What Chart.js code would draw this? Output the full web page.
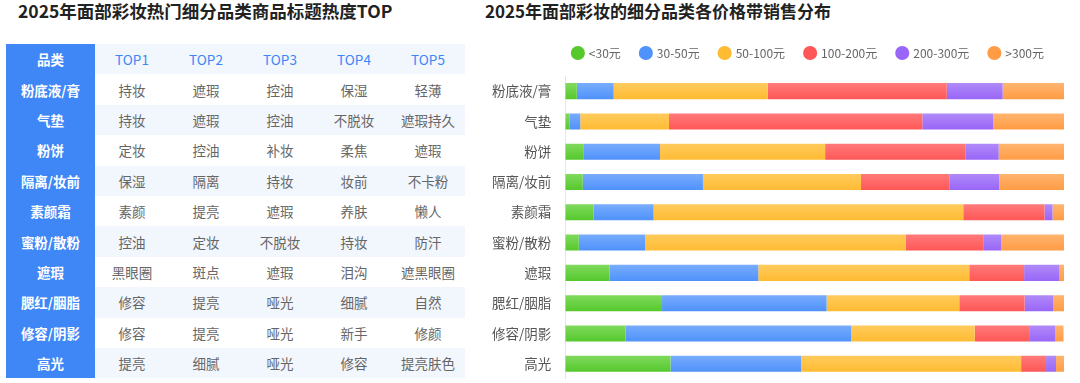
<!DOCTYPE html>
<html lang="zh-CN">
<head>
<meta charset="UTF-8">
<title>2025年面部彩妆细分品类</title>
<script src="https://cdn.jsdelivr.net/npm/chart.js"></script>
<style>
  html, body { margin: 0; padding: 0; background: #fff; }
  body { width: 1080px; height: 383px; position: relative; overflow: hidden;
         font-family: "Noto Sans CJK SC", "Noto Sans", sans-serif; }
  .title { position: absolute; top: -2px; font-size: 17px; font-weight: bold; color: #222; }
  #leftTitle { left: 18px; font-size: 17.5px; }
  #rightTitle { left: 485px; }
  table { position: absolute; left: 6px; top: 44px; border-collapse: collapse; table-layout: fixed; }
  td, th { height: 30.4px; padding: 0; text-align: center; font-size: 13.5px; color: #666; font-weight: normal; }
  th { color: #3d87f5; }
  td.cat, th.cat { background: #3f87f6; color: #fff; font-weight: bold; width: 89px; }
  tr.alt td, tr.alt th { background: #f2f6fd; }
  tr.alt td.cat, tr.alt th.cat { background: #3f87f6; }
  .col { width: 74px; }
  /* 画布比可见区域高一些，抵消 y 轴标签自带的底部留白 */
  #box { position: absolute; left: 470px; top: 27px; width: 604px; height: 374px; }
</style>
</head>
<body>
<div class="title" id="leftTitle">2025年面部彩妆热门细分品类商品标题热度TOP</div>
<div class="title" id="rightTitle">2025年面部彩妆的细分品类各价格带销售分布</div>
<table id="topTable"></table>
<div id="box"><canvas id="priceChart"></canvas></div>

<script>
// 品类
const categories = ['粉底液/膏', '气垫', '粉饼', '隔离/妆前', '素颜霜', '蜜粉/散粉', '遮瑕', '腮红/胭脂', '修容/阴影', '高光'];

// 表头
const topHeaders = ['TOP1', 'TOP2', 'TOP3', 'TOP4', 'TOP5'];

// 各品类标题热词
const top1 = ['持妆', '持妆', '定妆', '保湿', '素颜', '控油', '黑眼圈', '修容', '修容', '提亮'];
const top2 = ['遮瑕', '遮瑕', '控油', '隔离', '提亮', '定妆', '斑点', '提亮', '提亮', '细腻'];
const top3 = ['控油', '控油', '补妆', '持妆', '遮瑕', '不脱妆', '遮瑕', '哑光', '哑光', '哑光'];
const top4 = ['保湿', '不脱妆', '柔焦', '妆前', '养肤', '持妆', '泪沟', '细腻', '新手', '修容'];
const top5 = ['轻薄', '遮瑕持久', '遮瑕', '不卡粉', '懒人', '防汗', '遮黑眼圈', '自然', '修颜', '提亮肤色'];

// 价格带占比 (%)
const priceBands = ['<30元', '30-50元', '50-100元', '100-200元', '200-300元', '>300元'];
const under30 = [2.3, 0.9, 3.6, 3.5, 5.7, 2.7, 8.9, 19.4, 12.1, 21.1];
const p30to50 = [7.4, 2.1, 15.4, 24.1, 12.0, 13.3, 29.8, 33.0, 45.2, 26.2];
const p50to100 = [30.9, 17.8, 33.1, 31.7, 62.1, 52.3, 42.3, 26.6, 24.8, 44.1];
const p100to200 = [35.9, 50.8, 28.2, 17.8, 16.3, 15.5, 11.0, 13.1, 10.9, 5.0];
const p200to300 = [11.2, 14.2, 6.6, 9.9, 1.6, 3.6, 7.1, 5.7, 5.2, 2.0];
const over300 = [12.3, 14.2, 13.1, 13.0, 2.3, 12.6, 0.9, 2.2, 1.7, 1.6];

// 条形上浅下深
const bandColors = ['#55c82c', '#4f92fb', '#ffbb33', '#ff5757', '#9966f7', '#ff9c45'];
const bandLight = ['#80da5d', '#78acfd', '#ffcb5c', '#ff7a7a', '#b08af9', '#ffb46f'];

// 表格
const table = document.getElementById('topTable');
const cols = [top1, top2, top3, top4, top5];
let html = '<tr><th class="cat">品类</th>' + topHeaders.map(h => `<th class="col">${h}</th>`).join('') + '</tr>';
categories.forEach((c, i) => {
  const cls = i % 2 === 1 ? ' class="alt"' : '';
  html += `<tr${cls}><td class="cat">${c}</td>` + cols.map(col => `<td>${col[i]}</td>`).join('') + '</tr>';
});
table.innerHTML = html;
table.rows[0].classList.add('alt');

// 图例和条形之间多留一点空
const legendGap = {
  id: 'legendGap',
  beforeInit(chart) {
    const origFit = chart.legend.fit;
    chart.legend.fit = function () {
      origFit.bind(chart.legend)();
      this.height += 7;
    };
  }
};

function barFill(i) {
  return (ctx) => {
    const chart = ctx.chart;
    if (!chart.chartArea || ctx.type !== 'data') return bandColors[i];
    const yc = chart.scales.y.getPixelForValue(ctx.dataIndex);
    const g = chart.ctx.createLinearGradient(0, yc - 8, 0, yc + 8);
    g.addColorStop(0, bandLight[i]);
    g.addColorStop(1, bandColors[i]);
    return g;
  };
}

// 堆叠条形图
const seriesData = [under30, p30to50, p50to100, p100to200, p200to300, over300];

new Chart(document.getElementById('priceChart'), {
  type: 'bar',
  data: {
    labels: categories,
    datasets: seriesData.map((d, i) => ({
      label: priceBands[i],
      data: d,
      backgroundColor: barFill(i),
      borderWidth: 0,
      barPercentage: 0.53,
      categoryPercentage: 1
    }))
  },
  plugins: [legendGap],
  options: {
    indexAxis: 'y',
    responsive: true,
    maintainAspectRatio: false,
    animation: false,
    layout: { padding: { left: 8, right: 10, top: 0, bottom: 0 } },
    plugins: {
      legend: {
        position: 'top',
        align: 'end',
        labels: {
          usePointStyle: true,
          pointStyle: 'circle',
          boxWidth: 10,
          boxHeight: 10,
          padding: 20,
          color: '#666',
          font: { size: 12, family: '"Noto Sans CJK SC", sans-serif' },
          generateLabels(chart) {
            return priceBands.map((b, i) => ({
              text: b,
              fillStyle: bandColors[i],
              strokeStyle: bandColors[i],
              lineWidth: 0,
              pointStyle: 'circle',
              fontColor: '#666',
              hidden: !chart.isDatasetVisible(i),
              datasetIndex: i
            }));
          }
        }
      },
      tooltip: { enabled: false }
    },
    scales: {
      x: {
        stacked: true,
        min: 0,
        max: 100,
        display: false
      },
      y: {
        stacked: true,
        grid: { display: false, drawTicks: false },
        border: { display: true, color: '#e6e6e6' },
        ticks: {
          color: '#555',
          padding: 14,
          font: { size: 13.5, family: '"Noto Sans CJK SC", sans-serif' }
        }
      }
    }
  }
});
</script>
</body>
</html>
